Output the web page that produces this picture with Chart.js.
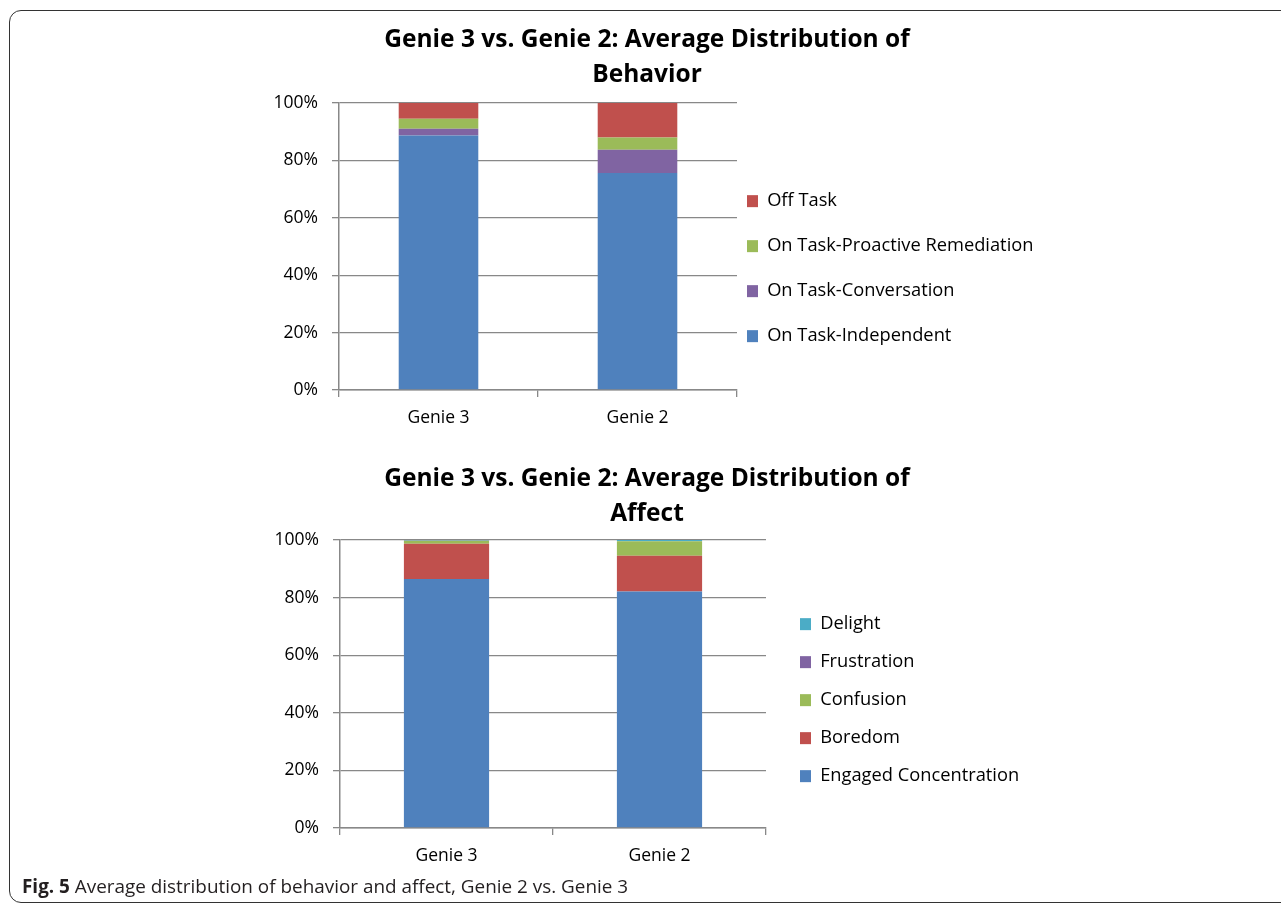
<!DOCTYPE html>
<html>
<head>
<meta charset="utf-8">
<script src="https://cdn.jsdelivr.net/npm/chart.js"></script>
<style>
  body { margin: 0; background: #fff; width: 1281px; height: 904px; position: relative; overflow: hidden; }
  #frame { position: absolute; left: 9px; top: 10px; width: 1300px; height: 891px; border: 1.5px solid #333; border-radius: 12px; }
  canvas { position: absolute; }
  #c1 { left: 252px; top: 20px; }
  #c2 { left: 252px; top: 455px; }
  #caption { position: absolute; left: 22px; top: 874px; font: 18.9px "Open Sans", sans-serif; color: #231f20; line-height: 24px; }
</style>
</head>
<body>
<div id="frame"></div>
<canvas id="c1" width="790" height="420"></canvas>
<canvas id="c2" width="790" height="423"></canvas>
<div id="caption"><b>Fig. 5</b> Average distribution of behavior and affect, Genie 2 vs. Genie 3</div>
<script>
// categories
const genies = ["Genie 3", "Genie 2"];
const yTicks = [0, 20, 40, 60, 80, 100];

// behavior, % of observations
const onTaskIndependent = [88.7, 75.6];
const onTaskConversation = [2.3, 8.1];
const onTaskRemediation = [3.5, 4.3];
const offTask = [5.5, 12.0];

// affect, % of observations
const engaged = [86.5, 82.1];
const boredom = [12.2, 12.4];
const confusion = [1.0, 5.1];
const frustration = [0.1, 0.0];
const delight = [0.2, 0.4];

const BLUE = "#4f81bd", RED = "#c0504d", GREEN = "#9bbb59", PURPLE = "#8064a2", CYAN = "#4bacc6";
const FONT = "'Open Sans', sans-serif";
const GRID = "#888888";

Chart.defaults.font.family = FONT;
Chart.defaults.color = "#000";

function makeChart(id, title, series, s) {
  const ctx = document.getElementById(id).getContext("2d");
  return new Chart(ctx, {
    type: "bar",
    data: {
      labels: genies,
      datasets: series.map(([label, data, color]) => ({
        label, data,
        backgroundColor: color,
        borderWidth: 0,
        barPercentage: 0.4,
        categoryPercentage: 1,
      })),
    },
    options: {
      responsive: false,
      animation: false,
      devicePixelRatio: 1,
      layout: { padding: { bottom: 1, left: s.side, right: s.side } },
      scales: {
        x: {
          stacked: true,
          grid: { display: true, drawOnChartArea: false, tickLength: 7, color: GRID, lineWidth: 1.3 },
          border: { color: GRID, width: 1.5 },
          ticks: { font: { size: 17.5 }, padding: 10.5 },
        },
        y: {
          stacked: true,
          min: 0,
          max: 100,
          afterBuildTicks: (axis) => { axis.ticks = yTicks.map((v) => ({ value: v })); },
          afterFit: (axis) => { axis.width = s.yWidth; },
          grid: { color: GRID, lineWidth: 1.3, tickLength: 7 },
          border: { color: GRID, width: 1.5 },
          ticks: { font: { size: 17.5 }, padding: 14, callback: (v) => v + "%" },
        },
      },
      plugins: {
        tooltip: { enabled: false },
        title: {
          display: true,
          text: title,
          font: { size: 24.5, weight: "bold", lineHeight: "35.5px" },
          padding: { top: s.titleTop, bottom: s.titleBottom },
        },
        legend: {
          position: "right",
          fullSize: false,
          align: "start",
          reverse: true,
          maxWidth: s.legendWidth,
          title: { display: true, text: "", font: { size: 1, lineHeight: "1px" }, padding: { top: 0, bottom: s.legendTop - 1 } },
          labels: {
            boxWidth: 11,
            boxHeight: 12,
            padding: s.legendPad,
            font: { size: 18.3, lineHeight: s.legendLine },
            generateLabels: (chart) =>
              Chart.defaults.plugins.legend.labels.generateLabels(chart).map((l) => ({ ...l, text: [l.text] })),
          },
        },
      },
    },
  });
}

makeChart("c1", ["Genie 3 vs. Genie 2: Average Distribution of", "Behavior"], [
  ["On Task-Independent", onTaskIndependent, BLUE],
  ["On Task-Conversation", onTaskConversation, PURPLE],
  ["On Task-Proactive Remediation", onTaskRemediation, GREEN],
  ["Off Task", offTask, RED],
], { side: 10, yWidth: 77, titleTop: 2.25, titleBottom: 9.75, legendWidth: 295, legendPad: 10, legendLine: "35px", legendTop: 79 });

makeChart("c2", ["Genie 3 vs. Genie 2: Average Distribution of", "Affect"], [
  ["Engaged Concentration", engaged, BLUE],
  ["Boredom", boredom, RED],
  ["Confusion", confusion, GREEN],
  ["Frustration", frustration, PURPLE],
  ["Delight", delight, CYAN],
], { side: 18, yWidth: 70, titleTop: 6, titleBottom: 8, legendWidth: 258, legendPad: 34, legendLine: "4px", legendTop: 41 });
</script>
</body>
</html>
